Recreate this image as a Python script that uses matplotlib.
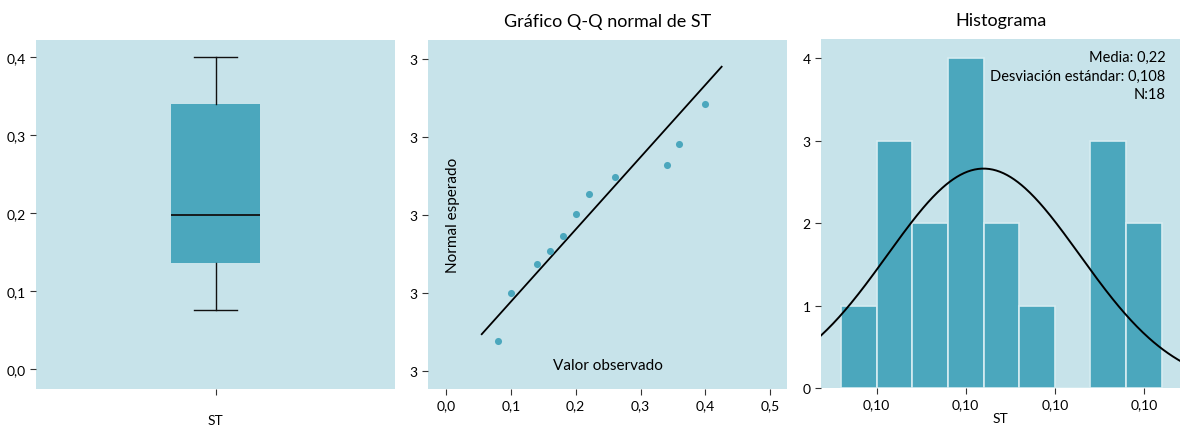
import matplotlib.pyplot as plt
from matplotlib import ticker
import numpy as np

plt.rcParams["font.family"] = ["Lato", "DejaVu Sans"]

# datos
box_stats = [{"label": "ST", "whislo": 0.0756, "q1": 0.136, "med": 0.197,
              "q3": 0.340, "whishi": 0.400}]
box_yticks = [0.0, 0.1, 0.2, 0.3, 0.4]

qq_obs = [0.08, 0.10, 0.14, 0.16, 0.18, 0.20, 0.22, 0.26, 0.34, 0.36, 0.40]
qq_exp = [-1.615, -0.996, -0.624, -0.466, -0.265, 0.008, 0.269, 0.491, 0.641, 0.910, 1.419]
qq_line_x = [0.055, 0.425]
qq_xticks = [0.0, 0.1, 0.2, 0.3, 0.4, 0.5]
qq_yticks = [-2, -1, 0, 1, 2]
qq_ylabels = ["3", "3", "3", "3", "3"]

hist_edges = [0.06, 0.10, 0.14, 0.18, 0.22, 0.26, 0.30, 0.34, 0.38, 0.42]
hist_counts = [1, 3, 2, 4, 2, 1, 0, 3, 2]
hist_xticks = [0.1, 0.2, 0.3, 0.4]
hist_xlabels = ["0,10", "0,10", "0,10", "0,10"]
media = 0.22
desv = 0.108
n = 18

bg = "#c7e3ea"
teal = "#4ba7bd"

fig = plt.figure(figsize=(11.89, 4.31), dpi=100)
ax1 = fig.add_axes([0.0303, 0.0951, 0.302, 0.8097])
ax2 = fig.add_axes([0.360, 0.0951, 0.302, 0.8097])
ax3 = fig.add_axes([0.6905, 0.0974, 0.302, 0.8097])

for ax in (ax1, ax2, ax3):
    ax.set_facecolor(bg)
    for s in ax.spines.values():
        s.set_visible(False)
    ax.tick_params(labelsize=10, length=4, width=0.8, color="#333333")

# diagrama de caja
ax1.bxp(box_stats, positions=[1], widths=0.25, patch_artist=True,
        showfliers=False, capwidths=0.118,
        boxprops=dict(facecolor=teal, edgecolor=teal, lw=0),
        medianprops=dict(color="#111111", lw=1.3),
        whiskerprops=dict(color="#111111", lw=1),
        capprops=dict(color="#111111", lw=1))
ax1.set_xlim(0.5, 1.5)
ax1.set_ylim(-0.0256, 0.422)
ax1.set_yticks(box_yticks)
ax1.yaxis.set_major_formatter(ticker.FuncFormatter(lambda v, p: f"{v:.1f}".replace(".", ",")))
ax1.tick_params(axis="x", pad=14)

# grafico Q-Q
lx = np.array(qq_line_x)
ax2.plot(lx, (lx - media) / desv, color="black", lw=1.3)
ax2.scatter(qq_obs, qq_exp, s=26, color=teal, zorder=3, lw=0)
ax2.set_xlim(-0.0278, 0.526)
ax2.set_ylim(-2.23, 2.24)
ax2.set_xticks(qq_xticks)
ax2.xaxis.set_major_formatter(ticker.FuncFormatter(lambda v, p: f"{v:.1f}".replace(".", ",")))
ax2.set_yticks(qq_yticks, qq_ylabels)
ax2.set_title("Gráfico Q-Q normal de ST", fontsize=13, pad=10)
ax2.text(0.07, 0.5, "Normal esperado", transform=ax2.transAxes, rotation=90,
         ha="center", va="center", fontsize=11)
ax2.text(0.5, 0.07, "Valor observado", transform=ax2.transAxes,
         ha="center", va="center", fontsize=11)

# histograma
edges = np.array(hist_edges)
ax3.bar(edges[:-1], hist_counts, width=np.diff(edges), align="edge",
        color=teal, edgecolor="#d6ecf1", lw=1.2)
xs = np.linspace(0.0374, 0.4408, 300)
bw = edges[1] - edges[0]
ax3.plot(xs, n * bw / (desv * np.sqrt(2 * np.pi)) * np.exp(-0.5 * ((xs - media) / desv) ** 2),
         color="black", lw=1.4)
ax3.set_xlim(0.0374, 0.4408)
ax3.set_ylim(0, 4.23)
ax3.set_xticks(hist_xticks, hist_xlabels)
ax3.set_yticks([0, 1, 2, 3, 4])
ax3.set_title("Histograma", fontsize=13, pad=10)
ax3.set_xlabel("ST", fontsize=10, labelpad=1)
stats_txt = f"Media: {media:.2f}\nDesviación estándar: {desv:.3f}\nN:{n}".replace(".", ",")
ax3.text(0.96, 0.97, stats_txt, transform=ax3.transAxes, ha="right", va="top",
         fontsize=10.5, linespacing=1.45)

plt.savefig("out.png", dpi=100)
